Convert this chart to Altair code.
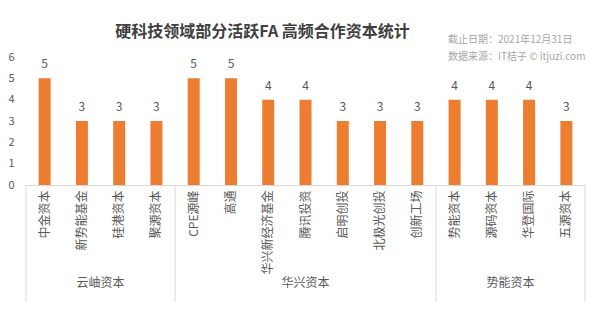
import altair as alt
import pandas as pd

names = ["中金资本", "新势能基金", "硅港资本", "聚源资本",
         "CPE源峰", "高通", "华兴新经济基金", "腾讯投资", "启明创投", "北极光创投", "创新工场",
         "势能资本", "源码资本", "华登国际", "五源资本"]
values = [5, 3, 3, 3, 5, 5, 4, 4, 3, 3, 3, 4, 4, 4, 3]
groups = ["云岫资本", "华兴资本", "势能资本"]
title_text = "硬科技领域部分活跃FA 高频合作资本统计"
notes = ["截止日期：2021年12月31日", "数据来源：IT桔子 © itjuzi.com"]

FONT = "Noto Sans CJK SC"
W, H = 559, 128

df = pd.DataFrame({"name": names, "value": values})

xscale = alt.Scale(domain=names, paddingInner=0, paddingOuter=0)
x = alt.X("name:N", sort=names, scale=xscale,
          axis=alt.Axis(title=None, labelAngle=-90, labelFontSize=12, labelColor="#595959",
                        labelFont=FONT, ticks=False, domainColor="#d9d9d9", labelPadding=5,
                        labelLimit=200))
y = alt.Y("value:Q", scale=alt.Scale(domain=[0, 6]),
          axis=alt.Axis(title=None, tickCount=7, values=[0, 1, 2, 3, 4, 5, 6], grid=False,
                        domain=False, ticks=False, labelFontSize=11, labelColor="#595959",
                        labelPadding=12, labelFont=FONT, labelOverlap=False))

bars = alt.Chart(df).mark_bar(color="#ED7D31", size=12).encode(x=x, y=y)
labels = alt.Chart(df).mark_text(dy=-14, fontSize=12, color="#595959", font=FONT).encode(
    x=alt.X("name:N", sort=names), y=y, text="value:Q")

sep_df = pd.DataFrame({"name": [names[0], names[4], names[11]]})
seps = alt.Chart(sep_df).mark_rule(color="#d9d9d9", strokeWidth=1).encode(
    x=alt.X("name:N", sort=names, bandPosition=0),
    y=alt.value(H), y2=alt.value(H + 117))
end_df = pd.DataFrame({"name": [names[-1]]})
end_rule = alt.Chart(end_df).mark_rule(color="#d9d9d9", strokeWidth=1).encode(
    x=alt.X("name:N", sort=names, bandPosition=1),
    y=alt.value(H), y2=alt.value(H + 117))

g_edge = pd.DataFrame({"name": [names[1], names[12]], "group": [groups[0], groups[2]]})
g_mid = pd.DataFrame({"name": [names[7]], "group": [groups[1]]})
glab1 = alt.Chart(g_edge).mark_text(fontSize=12, color="#595959", font=FONT).encode(
    x=alt.X("name:N", sort=names, bandPosition=1), y=alt.value(H + 98), text="group:N")
glab2 = alt.Chart(g_mid).mark_text(fontSize=12, color="#595959", font=FONT).encode(
    x=alt.X("name:N", sort=names, bandPosition=0.5), y=alt.value(H + 98), text="group:N")

note1 = alt.Chart(pd.DataFrame({"note": [notes[0]]})).mark_text(
    align="left", fontSize=10, color="#a6a6a6", font=FONT).encode(
    x=alt.value(422), y=alt.value(-17), text="note:N")
note2 = alt.Chart(pd.DataFrame({"note": [notes[1]]})).mark_text(
    align="left", fontSize=10, color="#a6a6a6", font=FONT).encode(
    x=alt.value(422), y=alt.value(0), text="note:N")

chart = alt.layer(bars, labels, seps, end_rule, glab1, glab2, note1, note2).properties(
    width=W, height=H,
    title=alt.TitleParams(title_text, fontSize=16, fontWeight="bold", color="#404040",
                          font=FONT, anchor="middle", dx=-43, dy=5, offset=0),
    autosize=alt.AutoSizeParams(type="none"),
    padding={"left": 26, "top": 57, "right": 15, "bottom": 125},
    background="white",
).configure_view(stroke=None).configure_axis(labelFont=FONT)

chart.save("out.html", embed_options={"renderer": "svg", "actions": False})
